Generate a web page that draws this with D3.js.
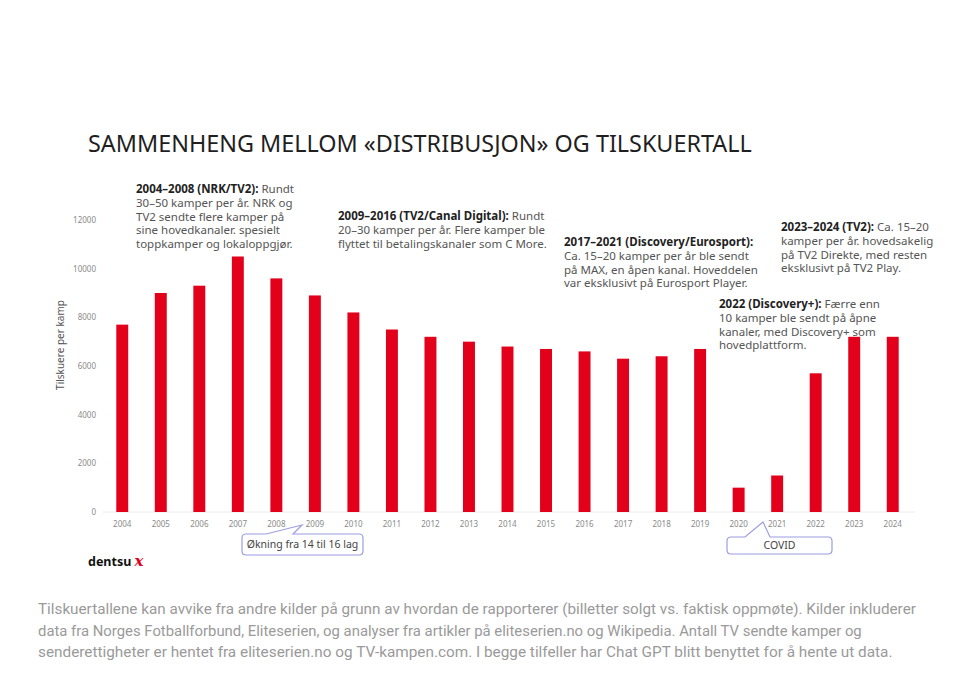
<!DOCTYPE html>
<html lang="no">
<head>
  <meta charset="UTF-8">
  <title>Tilskuertall Eliteserien</title>
  <script src="https://d3js.org/d3.v7.min.js"></script>
  <style>
    * { margin: 0; padding: 0; box-sizing: border-box; }
    body { background: #fff; font-family: "Noto Sans", sans-serif; }
  </style>
</head>
<body>
  <div id="chart"></div>
  <script>
    // data lest av bildet
    const years = ["2004","2005","2006","2007","2008","2009","2010","2011","2012","2013","2014",
                   "2015","2016","2017","2018","2019","2020","2021","2022","2023","2024"];
    const spectators = [7700, 9000, 9300, 10500, 9600, 8900, 8200, 7500, 7200, 7000, 6800,
                        6700, 6600, 6300, 6400, 6700, 1000, 1500, 5700, 7200, 7200];
    const yTicks = [0, 2000, 4000, 6000, 8000, 10000, 12000];

    const notes = [
      { x: 136, y: 189, head: "2004–2008 (NRK/TV2):", rest: " Rundt",
        lines: ["30–50 kamper per år. NRK og", "TV2 sendte flere kamper på", "sine hovedkanaler. spesielt", "toppkamper og lokaloppgjør."] },
      { x: 338, y: 216, head: "2009–2016 (TV2/Canal Digital):", rest: " Rundt",
        lines: ["20–30 kamper per år. Flere kamper ble", "flyttet til betalingskanaler som C More."] },
      { x: 564, y: 242, head: "2017–2021 (Discovery/Eurosport):", rest: "",
        lines: ["Ca. 15–20 kamper per år ble sendt", "på MAX, en åpen kanal. Hoveddelen", "var eksklusivt på Eurosport Player."] },
      { x: 781, y: 227, head: "2023–2024 (TV2):", rest: " Ca. 15–20",
        lines: ["kamper per år. hovedsakelig", "på TV2 Direkte, med resten", "eksklusivt på TV2 Play."] },
      { x: 719, y: 304, head: "2022 (Discovery+):", rest: " Færre enn",
        lines: ["10 kamper ble sendt på åpne", "kanaler, med Discovery+ som", "hovedplattform."] }
    ];

    const footnote = [
      "Tilskuertallene kan avvike fra andre kilder på grunn av hvordan de rapporterer (billetter solgt vs. faktisk oppmøte). Kilder inkluderer",
      "data fra Norges Fotballforbund, Eliteserien, og analyser fra artikler på eliteserien.no og Wikipedia. Antall TV sendte kamper og",
      "senderettigheter er hentet fra eliteserien.no og TV-kampen.com. I begge tilfeller har Chat GPT blitt benyttet for å hente ut data."
    ];
    const footWidths = [879, 824, 855];

    const W = 980, H = 674;
    const svg = d3.select("#chart").append("svg")
                  .attr("width", W).attr("height", H);

    // skaler fontstørrelse slik at teksten får ønsket bredde
    function fit(sel, target) {
      const fs = parseFloat(sel.style("font-size"));
      const w = sel.node().getComputedTextLength();
      sel.style("font-size", (fs * target / w) + "px");
    }

    const x = d3.scaleBand()
                .domain(years)
                .range([103, 912])
                .paddingInner(0.69)
                .paddingOuter(0.345);

    const y = d3.scaleLinear()
                .domain([0, 12000])
                .range([512, 220]);

    // tittel
    const title = svg.append("text")
       .attr("x", 88).attr("y", 152)
       .style("font-size", "22px")
       .style("fill", "#1f1f1f")
       .text("SAMMENHENG MELLOM «DISTRIBUSJON» OG TILSKUERTALL");
    fit(title, 664);

    // x-akse
    const xAxis = svg.append("g")
       .attr("transform", "translate(0,512)")
       .call(d3.axisBottom(x).tickSize(0).tickPadding(9));
    xAxis.select(".domain").attr("stroke", "#ececec").attr("d", "M103,0H915");
    xAxis.selectAll("text").style("font-size", "8px").style("fill", "#8a8a8a")
         .style("font-family", "Noto Sans, sans-serif");

    // y-akse
    const yAxis = svg.append("g")
       .attr("transform", "translate(96,0)")
       .call(d3.axisLeft(y).tickValues(yTicks).tickFormat(d3.format("d")).tickSize(0).tickPadding(0));
    yAxis.select(".domain").remove();
    yAxis.selectAll("text").style("font-size", "8px").style("fill", "#8a8a8a")
         .style("font-family", "Noto Sans, sans-serif");

    svg.append("text")
       .attr("transform", "translate(60,345) rotate(-90)")
       .attr("text-anchor", "middle")
       .attr("dy", "0.35em")
       .style("font-size", "10px")
       .style("fill", "#555")
       .text("Tilskuere per kamp");

    // søyler
    svg.selectAll(".bar")
       .data(spectators)
       .enter()
       .append("rect")
       .attr("class", "bar")
       .attr("x", (d, i) => x(years[i]))
       .attr("y", d => y(d))
       .attr("width", x.bandwidth())
       .attr("height", d => y(0) - y(d))
       .attr("fill", "#e3001b");

    // kommentarer
    const lh = 13.8;
    notes.forEach(n => {
      const g = svg.append("g").style("font-size", "11.5px");
      const t = g.append("text").attr("x", n.x).attr("y", n.y).attr("dy", "0.35em");
      t.append("tspan").style("font-weight", "bold").style("fill", "#222").text(n.head);
      t.append("tspan").style("fill", "#555").text(n.rest);
      n.lines.forEach((l, i) => {
        g.append("text")
         .attr("x", n.x).attr("y", n.y + lh * (i + 1)).attr("dy", "0.35em")
         .style("fill", "#555")
         .text(l);
      });
    });

    // callouts
    const calloutColor = "#9c9ee0";
    function callout(bx, by, bw, bh, tail, label) {
      const r = 4;
      const [t1, tip, t2] = tail;
      const p = d3.path();
      p.moveTo(bx + r, by);
      p.lineTo(t1, by);
      p.lineTo(tip[0], tip[1]);
      p.lineTo(t2, by);
      p.lineTo(bx + bw - r, by);
      p.quadraticCurveTo(bx + bw, by, bx + bw, by + r);
      p.lineTo(bx + bw, by + bh - r);
      p.quadraticCurveTo(bx + bw, by + bh, bx + bw - r, by + bh);
      p.lineTo(bx + r, by + bh);
      p.quadraticCurveTo(bx, by + bh, bx, by + bh - r);
      p.lineTo(bx, by + r);
      p.quadraticCurveTo(bx, by, bx + r, by);
      svg.append("path").attr("d", p.toString())
         .attr("fill", "#fff").attr("stroke", calloutColor).attr("stroke-width", 1.2);
      svg.append("text")
         .attr("x", bx + bw / 2).attr("y", by + bh / 2).attr("dy", "0.35em")
         .attr("text-anchor", "middle")
         .style("font-size", "10.5px").style("fill", "#444")
         .text(label);
    }
    callout(242, 534, 121, 21, [266, [302, 525], 293], "Økning fra 14 til 16 lag");
    callout(727, 537, 105, 17, [745, [763, 522], 770], "COVID");

    // logo
    const logo = svg.append("text").attr("x", 88).attr("y", 566)
       .style("font-size", "12.5px").style("font-weight", "bold").style("fill", "#111");
    logo.append("tspan").text("dentsu ");
    logo.append("tspan").style("fill", "#e3001b").style("font-style", "italic")
        .style("font-family", "DejaVu Serif, serif").style("font-size", "15px").text("x");

    // fotnote
    footnote.forEach((l, i) => {
      const t = svg.append("text")
         .attr("x", 38).attr("y", 614 + i * 21.5)
         .style("font-family", "Liberation Sans Narrow, Roboto, sans-serif")
         .style("font-size", "14.5px")
         .style("fill", "#9a9a9a")
         .text(l);
      fit(t, footWidths[i]);
    });
  </script>
</body>
</html>
